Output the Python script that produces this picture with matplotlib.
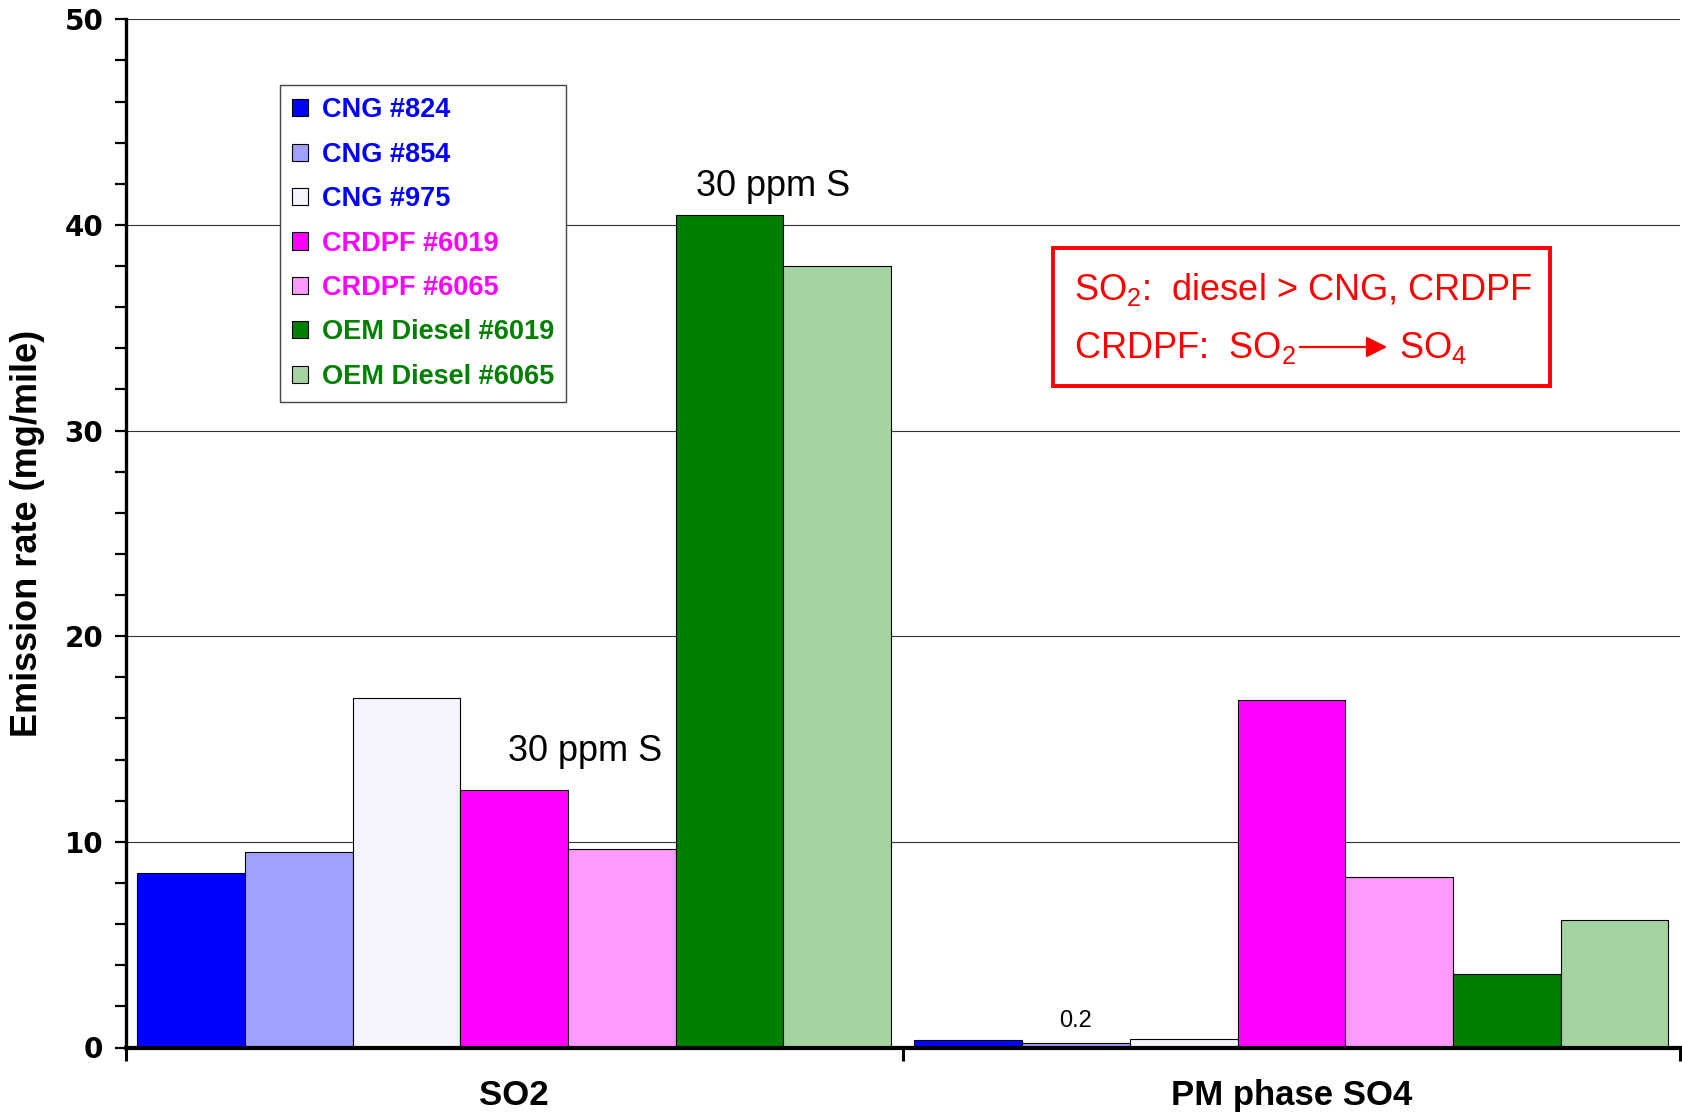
import matplotlib
matplotlib.use("Agg")
from matplotlib import pyplot as plt
from matplotlib.patches import Rectangle, FancyArrowPatch
import numpy as np

plt.rcParams['font.family'] = ['Liberation Sans', 'DejaVu Sans']
plt.rcParams['mathtext.fontset'] = 'custom'
plt.rcParams['mathtext.rm'] = 'Liberation Sans'

# data
categories = ["SO2", "PM phase SO4"]
series = ["CNG #824", "CNG #854", "CNG #975", "CRDPF #6019",
          "CRDPF #6065", "OEM Diesel #6019", "OEM Diesel #6065"]
so2 = [8.5, 9.5, 17.0, 12.5, 9.65, 40.5, 38.0]
pm_so4 = [0.35, 0.2, 0.4, 16.9, 8.3, 3.55, 6.2]
values = np.array([so2, pm_so4])

fills = ["#0000FF", "#A0A0FF", "#F4F4FF", "#FF00FF",
         "#FF99FF", "#008000", "#A6D4A0"]
text_cols = ["#0000FF", "#0000FF", "#0000FF", "#FF00FF",
             "#FF00FF", "#008000", "#008000"]

W, H = 1683, 1120
fig = plt.figure(figsize=(W / 100, H / 100), dpi=100)
ax = fig.add_axes([125.6 / W, 1 - 1047.5 / H, (1680 - 125.6) / W, (1047.5 - 19.3) / H])

x = np.arange(len(categories))
bw = 0.1386
for i, name in enumerate(series):
    off = (i - 3) * bw
    ax.bar(x + off, values[:, i], width=bw, color=fills[i],
           edgecolor="black", linewidth=0.8, label=name, zorder=3)

ax.set_xlim(-0.5, 1.5)
ax.set_ylim(0, 50)

# grid + axes styling
ax.set_yticks(np.arange(0, 51, 10))
ax.set_yticks(np.arange(0, 51, 2), minor=True)
ax.yaxis.grid(True, which="major", color="#333333", linewidth=0.8, zorder=0)
ax.tick_params(axis="y", which="both", direction="out", length=8, width=1.6, pad=8)
for lab in ax.get_yticklabels():
    lab.set_fontfamily("DejaVu Sans")
    lab.set_fontweight("heavy")
    lab.set_fontsize(20)

ax.set_xticks(x)
ax.set_xticklabels(categories, fontsize=25, fontweight="bold")
ax.set_xticks([-0.5, 0.5, 1.5], minor=True)
ax.tick_params(axis="x", which="major", length=0, pad=23)
ax.tick_params(axis="x", which="minor", direction="out", length=9, width=2.2)

for s in ["top", "right"]:
    ax.spines[s].set_visible(False)
ax.spines["left"].set_linewidth(2.4)
ax.spines["bottom"].set_linewidth(3)
ax.spines["bottom"].set_zorder(5)

ax.set_ylabel("Emission rate (mg/mile)", fontsize=26, fontweight="bold",
              labelpad=14)

# legend
leg = ax.legend(loc="upper left", bbox_to_anchor=((280 - 125.6) / 1554.4, 0.936),
                borderaxespad=0, fancybox=False, edgecolor="#444444",
                prop={"weight": "bold", "size": 19.5}, handlelength=0.6,
                handleheight=0.6, handletextpad=0.5, labelspacing=0.68,
                borderpad=0.45, framealpha=1)
leg.get_frame().set_linewidth(1.0)
for t, c in zip(leg.get_texts(), text_cols):
    t.set_color(c)

# annotations
ax.text(0.091, 14.4, "30 ppm S", fontsize=26, ha="center", va="center", zorder=6)
ax.text(0.333, 41.85, "30 ppm S", fontsize=26, ha="center", va="center", zorder=6)
ax.text(1 + (1 - 3) * bw, 0.75, "0.2", fontsize=17, ha="center", va="bottom", zorder=6)


def fpos(px, py):
    return px / W, 1 - py / H


box = Rectangle(fpos(1053, 386), (1550 - 1053) / W, (386 - 248) / H,
                transform=fig.transFigure, fill=True, facecolor="white",
                edgecolor="#FF0000", linewidth=2.8, zorder=10)
fig.patches.append(box)
red = "#FF0000"
fig.text(*fpos(1074, 290), r"SO$_2$:  diesel > CNG, CRDPF", color=red,
         fontsize=26, va="center", ha="left", zorder=11)
fig.text(*fpos(1074, 348), r"CRDPF:  SO$_2$", color=red,
         fontsize=26, va="center", ha="left", zorder=11)
fig.text(*fpos(1399, 348), r"SO$_4$", color=red,
         fontsize=26, va="center", ha="left", zorder=11)
arrow = FancyArrowPatch(fpos(1297, 347), fpos(1390, 347),
                        transform=fig.transFigure, arrowstyle="-|>",
                        color=red, lw=1.6, mutation_scale=32, zorder=12)
fig.patches.append(arrow)

fig.savefig("out.png", dpi=100)
